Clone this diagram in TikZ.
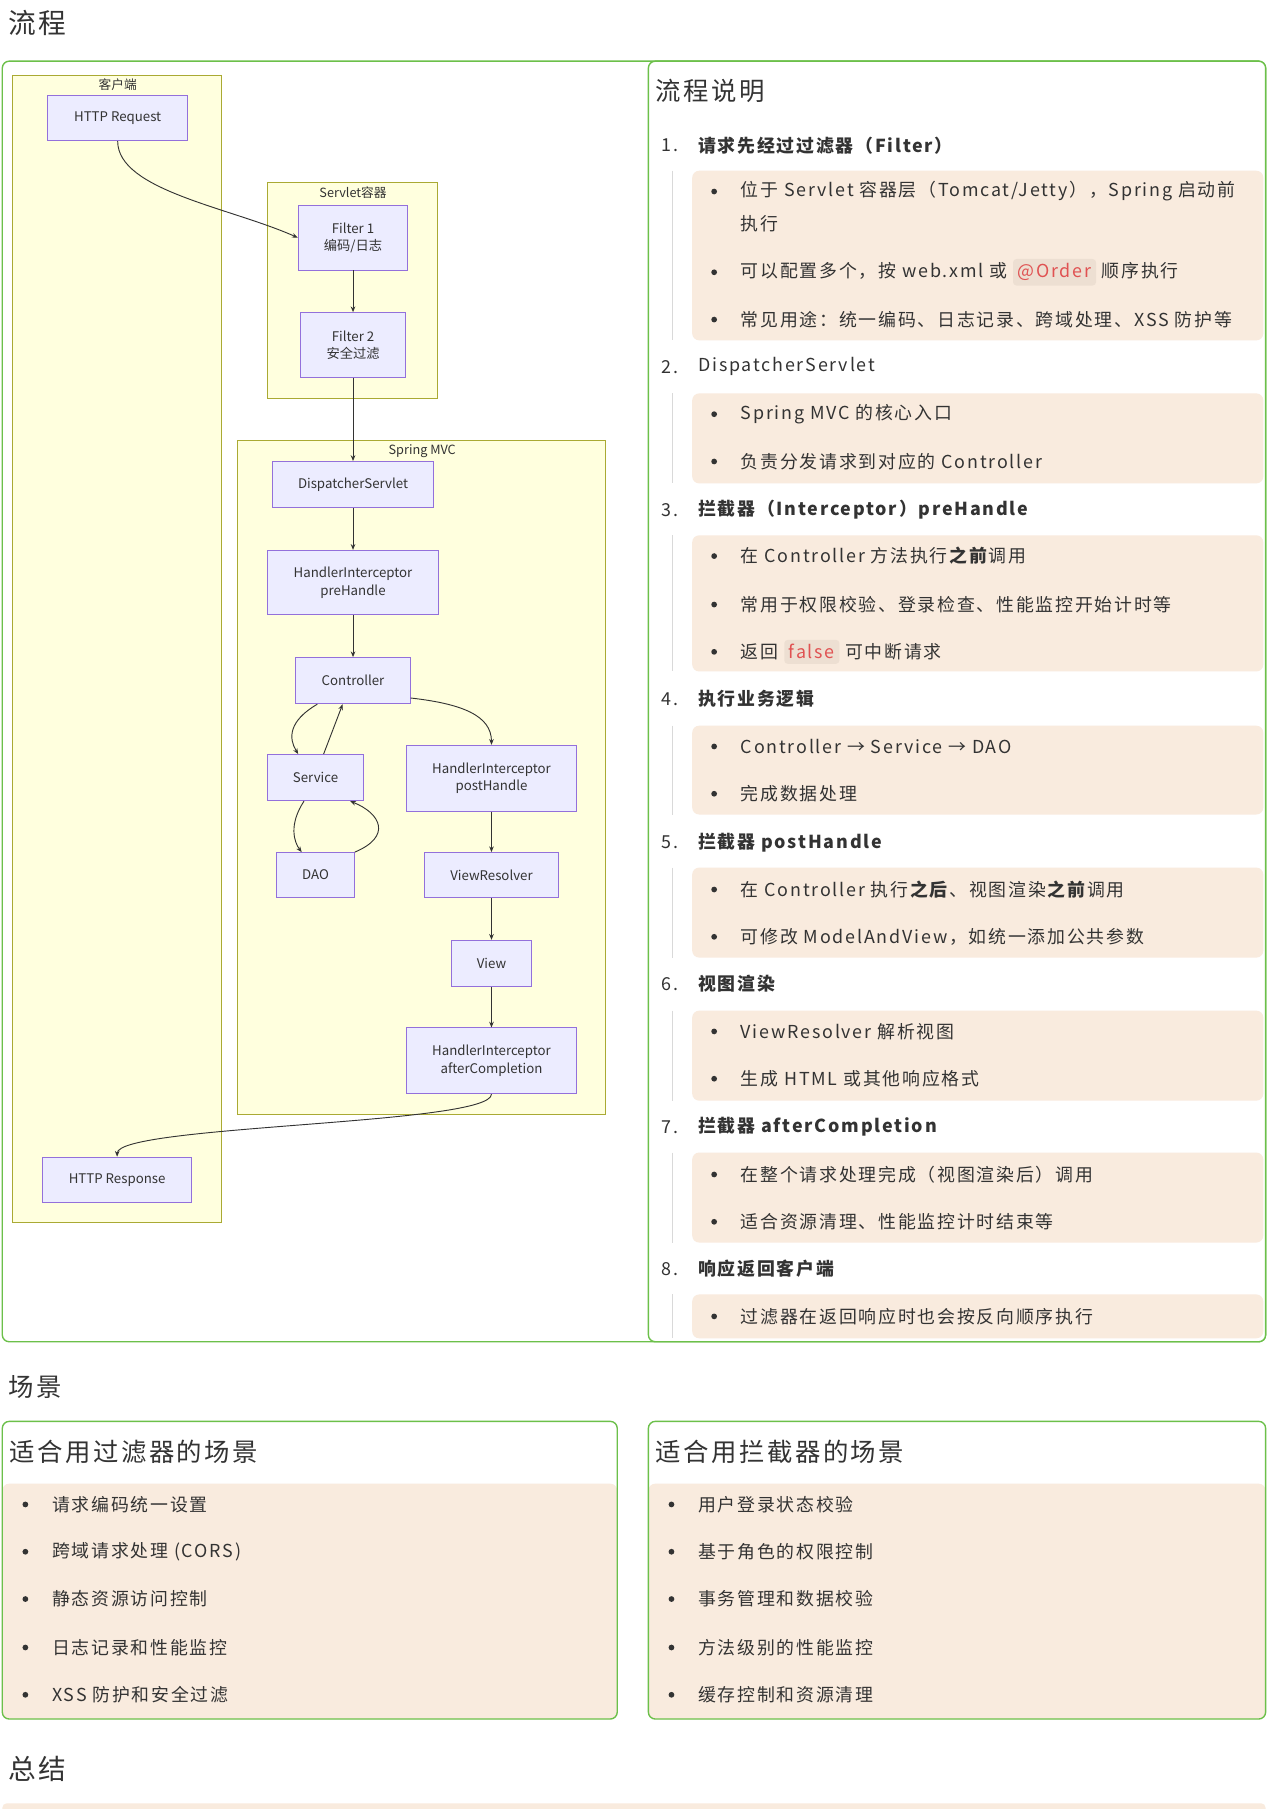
\documentclass[tikz,border=0pt]{standalone}
\usepackage{fontspec}
\setmainfont{Noto Sans CJK SC}[LetterSpace=10]
\newfontfamily\dg{Noto Sans CJK SC}
\usetikzlibrary{arrows.meta}
\definecolor{grn}{HTML}{6CC04A}
\definecolor{peach}{HTML}{F9EBDE}
\definecolor{sgf}{HTML}{FFFFDE}
\definecolor{sgd}{HTML}{AAAA33}
\definecolor{ndf}{HTML}{ECECFF}
\definecolor{ndd}{HTML}{9370DB}
\definecolor{txt}{HTML}{333333}
\definecolor{codered}{HTML}{E05252}
\definecolor{codebg}{HTML}{EDDFD2}
\newcommand{\cd}[1]{\tikz[baseline=(c.base)]\node[fill=codebg,rounded corners=3pt,text=codered,inner sep=4pt](c){#1};}
\begin{document}
\begin{tikzpicture}[x=1pt,y=-1pt,
  nd/.style={draw=ndd,fill=ndf,line width=0.8pt,font=\dg\fontsize{11.5}{15}\selectfont,align=center,text=txt},
  sg/.style={draw=sgd,fill=sgf,line width=0.8pt},
  sgl/.style={font=\dg\fontsize{11}{13}\selectfont,text=txt},
  ar/.style={draw=txt,line width=0.8pt,-{Stealth[length=5pt,width=4pt]}},
  card/.style={draw=grn,line width=1.2pt,rounded corners=6pt},
  pbox/.style={fill=peach,rounded corners=6pt},
  bt/.style={anchor=west,font=\fontsize{15.5}{18}\selectfont,text=txt,inner sep=0pt},
  hd/.style={anchor=west,font=\bfseries\fontsize{15.5}{18}\selectfont,text=txt,inner sep=0pt},
  num/.style={anchor=west,font=\fontsize{15.5}{18}\selectfont,text=txt,inner sep=0pt},
  bul/.style={circle,fill=txt,inner sep=0pt,minimum size=5pt},
  h1/.style={anchor=west,font=\fontsize{24}{28}\selectfont,text=txt,inner sep=0pt},
  h2/.style={anchor=west,font=\fontsize{22}{26}\selectfont,text=txt,inner sep=0pt}]
\useasboundingbox (0,0) rectangle (1100,1568);
\fill[white] (0,0) rectangle (1100,1568);
\node[h1] (t1) at (7,20) {流程};
% outer
\draw[card] (2,53) rectangle (1097,1163);
\draw[card,fill=white] (562,53) rectangle (1097,1163);
% subgraphs
\draw[sg] (11,65) rectangle (192,1060);
\node[sgl] (l1) at (102,73) {客户端};
\draw[sg] (232,158) rectangle (379,345);
\node[sgl] (l2) at (306,167) {Servlet容器};
\draw[sg] (206,382) rectangle (525,966);
\node[sgl] (l3) at (366,391) {Spring MVC};
% nodes
\node[nd,minimum width=121pt,minimum height=39pt] (req) at (102,102.5) {HTTP Request};
\node[nd,minimum width=95pt,minimum height=56pt] (f1) at (306,206) {Filter 1\\编码/日志};
\node[nd,minimum width=91pt,minimum height=56pt] (f2) at (306,299) {Filter 2\\安全过滤};
\node[nd,minimum width=140pt,minimum height=40pt] (ds) at (306,420) {DispatcherServlet};
\node[nd,minimum width=148pt,minimum height=56pt] (pre) at (306,505) {HandlerInterceptor\\preHandle};
\node[nd,minimum width=99pt,minimum height=40pt] (ctl) at (306,590) {Controller};
\node[nd,minimum width=83pt,minimum height=40pt] (svc) at (273.5,674) {Service};
\node[nd,minimum width=148pt,minimum height=57pt] (post) at (426,674.5) {HandlerInterceptor\\postHandle};
\node[nd,minimum width=67pt,minimum height=39pt] (dao) at (273.5,758.5) {DAO};
\node[nd,minimum width=116pt,minimum height=39pt] (vr) at (426,758.5) {ViewResolver};
\node[nd,minimum width=70pt,minimum height=40pt] (view) at (426,835) {View};
\node[nd,minimum width=148pt,minimum height=57pt] (aft) at (426,919.5) {HandlerInterceptor\\afterCompletion};
\node[nd,minimum width=129pt,minimum height=39pt] (resp) at (101.5,1022.5) {HTTP Response};
% edges
\draw[ar] (req.south) .. controls (102,165) and (200,180) .. (f1.west);
\draw[ar] (f1) -- (f2);
\draw[ar] (f2) -- (ds);
\draw[ar] (ds) -- (pre);
\draw[ar] (pre) -- (ctl);
\draw[ar] ([xshift=-31pt]ctl.south) .. controls (250,625) and (250,640) .. ([xshift=-15pt]svc.north);
\draw[ar] ([xshift=7pt]svc.north) -- ([xshift=-9pt]ctl.south);
\draw[ar] ([yshift=-15pt]ctl.east) .. controls (400,610) and (426,620) .. (post.north);
\draw[ar] ([xshift=-10pt]svc.south) .. controls (250,715) and (255,730) .. ([xshift=-12pt]dao.north);
\draw[ar] ([xshift=34pt]dao.north) .. controls (340,725) and (330,705) .. ([xshift=30pt]svc.south);
\draw[ar] (post) -- (vr);
\draw[ar] (vr) -- (view);
\draw[ar] (view) -- (aft);
\draw[ar] (aft.south) .. controls (426,975) and (102,975) .. (resp.north);
% right card
\node[h2] (t2) at (568,79) {流程说明};
\foreach \y/\n in {126/1.,318/2.,442/3.,606/4.,730/5.,853/6.,977/7.,1100/8.}
  \node[num] at (573,\y) {\n};
\foreach \a/\b in {148/295,341/419,464/582,629/706,752/830,876/954,999/1077,1122/1160}{
  \draw[gray!30,line width=1pt] (583,\a) -- (583,\b);
  \fill[pbox] (600,\a) rectangle (1095,\b);}
\node[hd] (h1) at (605,126) {请求先经过过滤器（Filter）};
\node[bt] at (642,166) {位于 Servlet 容器层（Tomcat/Jetty），Spring 启动前};
\node[bt] at (642,194) {执行};
\node[bt] at (642,236) {可以配置多个，按 web.xml 或 \cd{@Order} 顺序执行};
\node[bt] at (642,277) {常见用途：统一编码、日志记录、跨域处理、XSS 防护等};
\node[num] (h2) at (605,318) {DispatcherServlet};
\node[bt] at (642,359) {Spring MVC 的核心入口};
\node[bt] at (642,400) {负责分发请求到对应的 Controller};
\node[hd] (h3) at (605,442) {拦截器（Interceptor）preHandle};
\node[bt] at (642,482) {在 Controller 方法执行\textbf{之前}调用};
\node[bt] at (642,524) {常用于权限校验、登录检查、性能监控开始计时等};
\node[bt] at (642,565) {返回 \cd{false} 可中断请求};
\node[hd] (h4) at (605,606) {执行业务逻辑};
\node[bt] at (642,647) {Controller → Service → DAO};
\node[bt] at (642,688) {完成数据处理};
\node[hd] (h5) at (605,730) {拦截器 postHandle};
\node[bt] at (642,771) {在 Controller 执行\textbf{之后}、视图渲染\textbf{之前}调用};
\node[bt] at (642,812) {可修改 ModelAndView，如统一添加公共参数};
\node[hd] (h6) at (605,853) {视图渲染};
\node[bt] at (642,894) {ViewResolver 解析视图};
\node[bt] at (642,935) {生成 HTML 或其他响应格式};
\node[hd] (h7) at (605,977) {拦截器 afterCompletion};
\node[bt] at (642,1018) {在整个请求处理完成（视图渲染后）调用};
\node[bt] at (642,1059) {适合资源清理、性能监控计时结束等};
\node[hd] (h8) at (605,1100) {响应返回客户端};
\node[bt] at (642,1141) {过滤器在返回响应时也会按反向顺序执行};
\foreach \y in {166,236,277,359,400,482,524,565,647,688,771,812,894,935,1018,1059,1141}
  \node[bul] at (619,\y) {};
% scenes
\node[h2] (t3) at (7,1202) {场景};
\fill[pbox] (2,1286) rectangle (535,1490);
\fill[pbox] (562,1286) rectangle (1097,1490);
\draw[card] (2,1232) rectangle (535,1490);
\draw[card] (562,1232) rectangle (1097,1490);
\node[h2] (s1) at (8,1258) {适合用过滤器的场景};
\node[h2] (s2) at (568,1258) {适合用拦截器的场景};
\foreach \y/\t in {1304/请求编码统一设置,1345/跨域请求处理 (CORS),1386/静态资源访问控制,1428/日志记录和性能监控,1469/XSS 防护和安全过滤}{
  \node[bul] at (22,\y) {}; \node[bt] at (45,\y) {\t};}
\foreach \y/\t in {1304/用户登录状态校验,1345/基于角色的权限控制,1386/事务管理和数据校验,1428/方法级别的性能监控,1469/缓存控制和资源清理}{
  \node[bul] at (582,\y) {}; \node[bt] at (605,\y) {\t};}
\node[h1] (t4) at (7,1533) {总结};
\fill[peach,rounded corners=4pt] (2,1563) rectangle (1097,1575);
\end{tikzpicture}
\end{document}
